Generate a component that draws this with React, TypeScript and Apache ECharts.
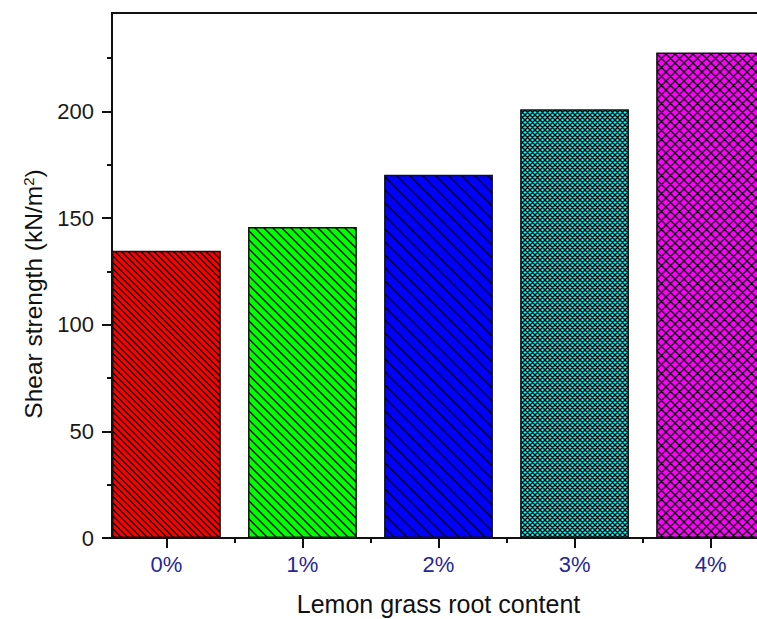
import React, { useEffect, useRef } from 'react';
import * as echarts from 'echarts';

const categories = ['0%', '1%', '2%', '3%', '4%'];
const positions = [0, 1, 2, 3, 4];
const shearStrength = [134.7, 145.8, 170.3, 201.1, 227.7];
const yMajorTicks = [0, 50, 100, 150, 200];
const yMinorTicks = [25, 75, 125, 175, 225];
const xMinorTicks = [0.5, 1.5, 2.5, 3.5];

const barColors = ['#FF0000', '#00FF00', '#0000FF', '#00FFFF', '#FF00FF'];
// tile size, lines per tile, crosshatch
const hatchTile = [13, 9, 13, 5, 9];
const hatchLines = [2, 1, 1, 1, 1];
const hatchCross = [false, false, false, true, true];

const FONT = '"Liberation Sans", Arial, sans-serif';

function makeHatch(bg: string, tile: number, n: number, cross: boolean) {
  const c = document.createElement('canvas');
  c.width = tile;
  c.height = tile;
  const ctx = c.getContext('2d')!;
  ctx.fillStyle = bg;
  ctx.fillRect(0, 0, tile, tile);
  ctx.strokeStyle = '#000';
  ctx.lineWidth = 1.3;
  const step = tile / n;
  ctx.beginPath();
  for (let o = -tile; o <= tile + 0.001; o += step) {
    ctx.moveTo(-1, o - 1);
    ctx.lineTo(tile + 1, o + tile + 1);
  }
  if (cross) {
    for (let o = 0; o <= 2 * tile + 0.001; o += step) {
      ctx.moveTo(-1, o + 1);
      ctx.lineTo(tile + 1, o - tile - 1);
    }
  }
  ctx.stroke();
  return { image: c, repeat: 'repeat', imageWidth: tile, imageHeight: tile };
}

export default function App() {
  const ref = useRef<HTMLDivElement>(null);
  useEffect(() => {
    if (!ref.current) return;
    const chart = echarts.init(ref.current, null, { renderer: 'svg' });
    const data = positions.map((p, i) => ({
      value: [p, shearStrength[i]],
      itemStyle: {
        color: makeHatch(barColors[i], hatchTile[i], hatchLines[i], hatchCross[i]) as any,
        borderColor: '#111',
        borderWidth: 1.5,
      },
    }));
    const tickStyle = { color: '#111', width: 2 };
    const option: any = {
      animation: false,
      grid: {
        left: 112,
        top: 13,
        width: 653,
        bottom: 81,
        outerBoundsMode: 'none',
        containLabel: false,
        show: true,
        borderColor: '#111',
        borderWidth: 2,
        backgroundColor: 'transparent',
      },
      xAxis: [
        {
          type: 'value',
          min: -0.4,
          max: 4.4,
          position: 'bottom',
          axisLine: { show: true, onZero: false, lineStyle: tickStyle },
          axisTick: { show: true, customValues: positions, length: 10, lineStyle: tickStyle },
          axisLabel: {
            customValues: positions,
            formatter: (v: number) => categories[Math.round(v)],
            fontSize: 22,
            fontFamily: FONT,
            color: '#26269a',
            margin: 15,
          },
          splitLine: { show: false },
          name: 'Lemon grass root content',
          nameLocation: 'middle',
          nameGap: 53,
          nameTextStyle: { fontSize: 25, fontFamily: FONT, color: '#111' },
        },
        {
          type: 'value',
          min: -0.4,
          max: 4.4,
          position: 'bottom',
          axisLine: { show: false, onZero: false },
          axisTick: { show: true, customValues: xMinorTicks, length: 5, lineStyle: tickStyle },
          axisLabel: { show: false },
          splitLine: { show: false },
        },
      ],
      yAxis: [
        {
          type: 'value',
          min: 0,
          max: 246.2,
          position: 'left',
          axisLine: { show: true, onZero: false, lineStyle: tickStyle },
          axisTick: { show: true, customValues: yMajorTicks, length: 10, lineStyle: tickStyle },
          axisLabel: {
            customValues: yMajorTicks,
            fontSize: 22,
            fontFamily: FONT,
            color: '#1a1a1a',
            margin: 18,
          },
          splitLine: { show: false },
        },
        {
          type: 'value',
          min: 0,
          max: 246.2,
          position: 'left',
          axisLine: { show: false, onZero: false },
          axisTick: { show: true, customValues: yMinorTicks, length: 5, lineStyle: tickStyle },
          axisLabel: { show: false },
          splitLine: { show: false },
        },
      ],
      graphic: [
        {
          type: 'text',
          x: 33,
          y: 294,
          rotation: Math.PI / 2,
          style: {
            text: 'Shear strength (kN/m{sup|2})',
            fontSize: 24.5,
            fontFamily: FONT,
            fill: '#111',
            align: 'center',
            verticalAlign: 'middle',
            rich: {
              sup: { fontSize: 15, fontFamily: FONT, fill: '#111', verticalAlign: 'top' },
            },
          },
        },
      ],
      series: [
        {
          type: 'bar',
          xAxisIndex: 0,
          yAxisIndex: 0,
          barWidth: '80%',
          data,
        },
      ],
    };
    chart.setOption(option);
    return () => chart.dispose();
  }, []);
  return (
    <div
      ref={ref}
      style={{ position: 'fixed', left: 0, top: 0, width: 757, height: 619, background: '#fff' }}
    />
  );
}
